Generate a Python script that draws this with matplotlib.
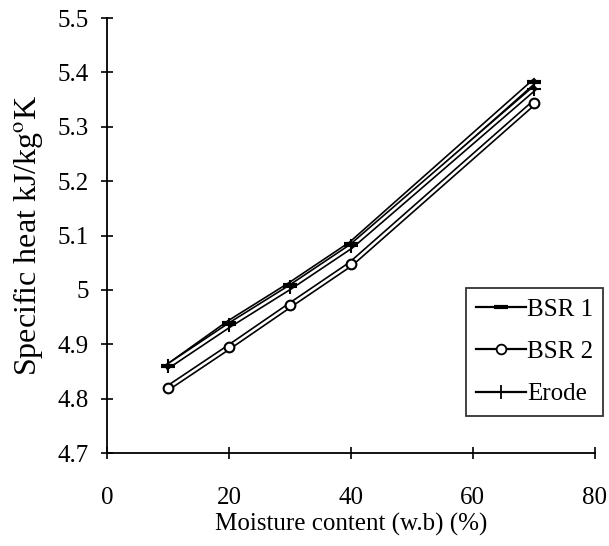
import matplotlib
matplotlib.use('Agg')
import matplotlib.pyplot as plt
import matplotlib.patheffects as pe
from matplotlib.lines import Line2D

moisture = [10, 20, 30, 40, 70]
bsr1 = [4.86, 4.94, 5.01, 5.085, 5.383]
bsr2 = [4.82, 4.895, 4.972, 5.048, 5.344]
erode = [4.86, 4.935, 5.005, 5.08, 5.37]
xticks = [0, 20, 40, 60, 80]
yticks = [4.7, 4.8, 4.9, 5.0, 5.1, 5.2, 5.3, 5.4, 5.5]
ytick_labels = ['4.7', '4.8', '4.9', '5', '5.1', '5.2', '5.3', '5.4', '5.5']

plt.rcParams['font.family'] = ['Liberation Serif', 'DejaVu Serif']
plt.rcParams['mathtext.fontset'] = 'stix'

fig = plt.figure(figsize=(6.09, 5.46), dpi=100)
ax = fig.add_axes([0.1757, 0.170, 0.801, 0.797])

# hollow (double-edged) look of the scanned lines
hollow = [pe.Stroke(linewidth=4.2, foreground='black'),
          pe.Stroke(linewidth=1.8, foreground='white')]

for vals in (bsr1, bsr2, erode):
    ax.plot(moisture, vals, color='black', lw=1, path_effects=hollow, zorder=2)

ax.plot(moisture, bsr1, ls='none', marker='_', ms=10, mew=3, color='black', zorder=3)
ax.plot(moisture, bsr2, ls='none', marker='o', ms=7, mew=1.5, mfc='white', color='black', zorder=3)
ax.plot(moisture, erode, ls='none', marker='+', ms=10, mew=1.5, color='black', zorder=3)

ax.set_xlim(0, 80)
ax.set_ylim(4.7, 5.5)
ax.set_xticks(xticks)
ax.set_yticks(yticks)
ax.set_yticklabels(ytick_labels)
ax.tick_params(direction='inout', length=8, width=1.2, colors='black')
ax.tick_params(axis='x', labelsize=18, pad=20)
ax.tick_params(axis='y', labelsize=18, pad=9)
ax.spines['top'].set_visible(False)
ax.spines['right'].set_visible(False)
ax.spines['left'].set_linewidth(1.3)
ax.spines['bottom'].set_linewidth(1.3)

ax.set_xlabel('Moisture content (w.b) (%)', fontsize=18, labelpad=3)
ax.set_ylabel('Specific heat kJ/kg$^{\\mathrm{o}}$K', fontsize=23, labelpad=9)

handles = [
    Line2D([], [], color='black', lw=1.6, marker='_', ms=10, mew=3),
    Line2D([], [], color='black', lw=1.6, marker='o', ms=7, mew=1.3, mfc='white'),
    Line2D([], [], color='black', lw=1.6, marker='+', ms=10, mew=1.3),
]
leg = ax.legend(handles, ['BSR 1', 'BSR 2', 'Erode'], loc='upper right',
                bbox_to_anchor=(603 / 609, 1 - 288 / 546), bbox_transform=fig.transFigure,
                fontsize=18, frameon=True, fancybox=False, edgecolor='black',
                handlelength=2.0, handletextpad=0.05, labelspacing=0.8,
                borderpad=0.4, borderaxespad=0)
leg.get_frame().set_linewidth(1.3)

fig.savefig('out.png', dpi=100)
